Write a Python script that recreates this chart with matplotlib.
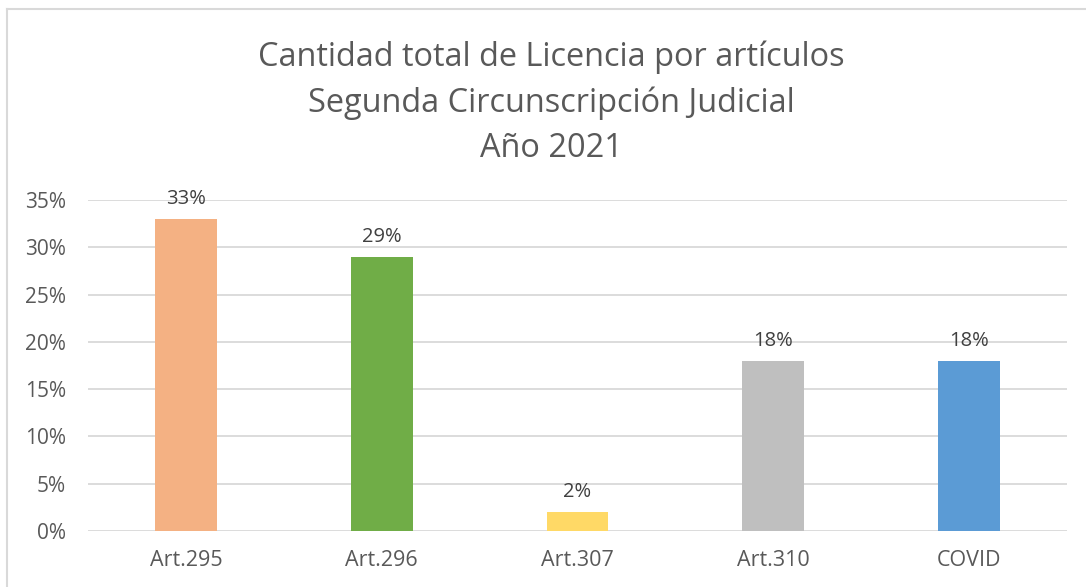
import matplotlib.pyplot as plt
from matplotlib.lines import Line2D
from matplotlib.ticker import FuncFormatter

categories = ["Art.295", "Art.296", "Art.307", "Art.310", "COVID"]
values = [33, 29, 2, 18, 18]
colors = ["#F4B183", "#70AD47", "#FFD966", "#BFBFBF", "#5B9BD5"]

plt.rcParams['font.family'] = ['Open Sans', 'DejaVu Sans']

W, H = 1086, 587
fig = plt.figure(figsize=(W / 100, H / 100), dpi=100)
ax = fig.add_axes([88 / W, 1 - 531 / H, (1067 - 88) / W, (531 - 200) / H])

x = range(len(categories))
ax.bar(x, values, width=0.316, color=colors, zorder=3)
for i, v in zip(x, values):
    ax.annotate(f"{v}%", (i, v), xytext=(0, 7), textcoords="offset points",
                ha="center", va="bottom", fontsize=14.5, color="#404040")

ax.set_xlim(-0.5, len(categories) - 0.5)
ax.set_ylim(0, 35)
ax.set_yticks(range(0, 36, 5))
ax.yaxis.set_major_formatter(FuncFormatter(lambda v, p: f"{v:.0f}%"))
ax.set_xticks(list(x))
ax.set_xticklabels(categories)
ax.tick_params(axis="y", length=0, labelsize=15, colors="#595959", pad=16)
ax.tick_params(axis="x", length=0, labelsize=15.5, colors="#595959", pad=14)
ax.grid(axis="y", color="#D9D9D9", linewidth=1.3, zorder=0)
for s in ax.spines.values():
    s.set_visible(False)

fig.text(551 / W, 1 - 103 / H,
         "Cantidad total de Licencia por artículos\nSegunda Circunscripción Judicial\nAño 2021",
         ha="center", va="center", fontsize=23.4, color="#595959", linespacing=1.48)

# chart frame
fig.add_artist(Line2D([7 / W, 1], [1 - 9 / H, 1 - 9 / H], color="#D9D9D9", lw=1.5))
fig.add_artist(Line2D([7 / W, 7 / W], [0, 1 - 9 / H], color="#D9D9D9", lw=1.5))

fig.savefig("out.png", dpi=100)
